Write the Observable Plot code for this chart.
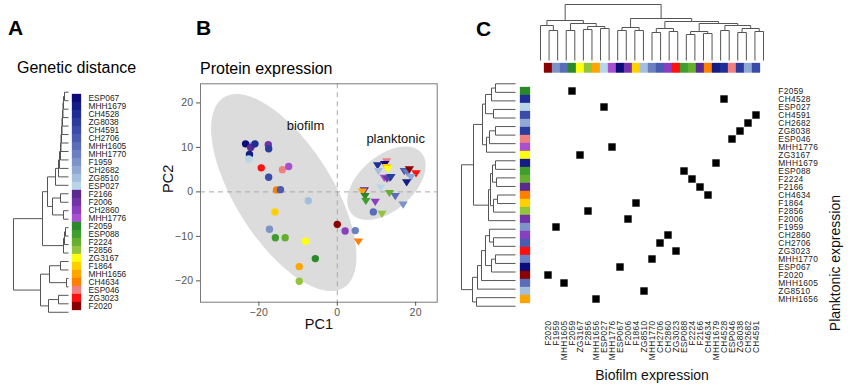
<!DOCTYPE html>
<html><head><meta charset="utf-8">
<script src="https://cdn.jsdelivr.net/npm/d3@7"></script>
<script src="https://cdn.jsdelivr.net/npm/@observablehq/plot@0.6"></script>
<style>
body{margin:0;background:#fff;}
#root{position:relative;width:850px;height:385px;overflow:hidden;font-family:"Liberation Sans",Arial,sans-serif;color:#000;}
.p{position:absolute;}
.letter{position:absolute;font-weight:bold;font-size:21px;line-height:21px;}
.title{position:absolute;font-size:16px;line-height:16px;white-space:nowrap;}
g[aria-label="x-axis tick label"] text, g[aria-label="y-axis tick label"] text, g[aria-label="strain label"] text{letter-spacing:0.3px;}
</style></head><body><div id="root"></div>
<script>
// ---------- DATA ----------
const strainsA = ["ESP067","MHH1679","CH4528","ZG8038","CH4591","CH2706","MHH1605","MHH1770","F1959","CH2682","ZG8510","ESP027",
  "F2166","F2006","CH2860","MHH1776","F2059","ESP088","F2224","F2856","ZG3167","F1864","MHH1656","CH4634","ESP046","ZG3023","F2020"];
const strainColors = ["#0c0c7a","#141c86","#1f2e94","#2c3c9e","#3a4ca8","#4a5cb0","#5a6db8","#6a80c0","#7d93c8","#90a8d4","#a5bede","#b8d6e8",
  "#5b2a90","#7232a8","#8a3ec0","#a850d0","#2a8a2a","#409e2e","#66ae30","#92c43c","#ffff10","#ffd000","#ffa500","#ff8000","#f08080","#ff1010","#8b0000"];
const treeA = "((((((((((((((ESP067,MHH1679)4,CH4528)5,ZG8038)5.5,CH4591)6,CH2706)6.5,MHH1605)7,MHH1770)7.5,F1959)8,CH2682)9,ZG8510)10,ESP027)13,((F2166,F2006)8,(CH2860,MHH1776)5)16)21,(((F2059,ESP088)3,F2224)4,F2856)5)26,(((ZG3167,F1864)8,(MHH1656,CH4634)2)19,((ESP046,ZG3023)10,F2020)20)28)55";

const rowStrains = ["F2059","CH4528","ESP027","CH4591","CH2682","ZG8038","ESP046","MHH1776","ZG3167","MHH1679","ESP088","F2224","F2166","CH4634",
  "F1864","F2856","F2006","F1959","CH2860","CH2706","ZG3023","MHH1770","ESP067","F2020","MHH1605","ZG8510","MHH1656"];
const colStrains = ["F2020","F1959","MHH1605","F2059","ZG3167","F2856","MHH1656","ESP027","MHH1776","ESP067","F2006","F1864","ZG8510","MHH1770",
  "CH2706","CH2860","ZG3023","ESP088","F2224","F2166","CH4634","MHH1679","CH4528","ESP046","ZG8038","CH2682","CH4591"];
const treeRows = "((((((F2059,CH4528)20,ESP027)24,(CH4591,CH2682)22)30,(((ZG8038,ESP046)20,MHH1776)26,ZG3167)29)33,((((MHH1679,ESP088)20,(F2224,F2166)19)23,((CH4634,F1864)18,F2856)22)25,F2006)27)42,(((((F1959,(CH2860,CH2706)22)26,((ZG3023,MHH1770)20,ESP067)24)30,F2020)34,MHH1605)38,(ZG8510,MHH1656)39)43)54";
const treeCols = "(((F2020,(F1959,MHH1605)30)35,((F2059,ZG3167)30,((F2856,MHH1656)31,(ESP027,MHH1776)32)34)37)40,(((ESP067,F2006)30,(F1864,ZG8510)30)33,(((MHH1770,CH2706)28,(CH2860,ZG3023)29)32,(((ESP088,F2224)26,(F2166,CH4634)27)29,((MHH1679,CH4528)30,((ESP046,ZG8038)28,(CH2682,CH4591)29)32)35)37)39)42)56";

const biofilmStrains = ["CH2682","ESP067","F2166","CH4528","MHH1679","ESP027","F2006","ZG8038","ZG3023","ESP046","MHH1776","CH4591","CH4634","CH2706",
  "ZG8510","F1864","F1959","ESP088","F2224","ZG3167","F2059","MHH1656","F2856","F2020","CH2860","MHH1770","MHH1605"];
const biofilmPC1 = [-21.8,-23.4,-22.1,-21.0,-22.4,-22.6,-17.6,-17.5,-19.4,-14.0,-12.4,-17.5,-15.5,-14.5,-7.4,-15.9,-17.3,-15.8,-13.3,-8.1,-5.6,-9.7,-9.7,0.0,2.0,4.6,9.2];
const biofilmPC2 = [10.4,10.8,10.0,10.8,8.4,7.4,10.6,9.7,5.4,5.0,5.7,3.3,0.45,0.5,-2.0,-4.5,-8.4,-10.3,-10.3,-11.1,-15.0,-16.8,-20.1,-7.3,-8.8,-8.7,-4.5];
const planktonicStrains = ["ESP046","ESP067","CH4528","ZG8510","F1864","ZG3167","MHH1776","F2006","CH4591","ZG8038","ESP027","F2166","MHH1656","F2059",
  "ESP088","CH2860","F2224","MHH1605","F2856","F1959","CH2706","MHH1770","F2020","ZG3023","CH2682","MHH1679","CH4634"];
const planktonicPC1 = [12.6,12.1,10.3,10.5,12.6,12.9,12.0,12.7,13.4,13.7,11.1,6.9,6.4,7.1,7.3,9.7,13.3,14.8,11.4,16.8,17.1,17.9,18.4,20.1,18.8,17.7,5.4];
const planktonicPC2 = [6.9,6.3,6.0,4.7,5.6,5.2,3.2,3.0,3.2,3.4,1.0,0.4,0.1,-0.9,-2.0,-2.2,-0.2,-0.9,-4.9,-2.8,4.7,4.4,5.1,4.2,3.4,2.2,-11.1];
const groupNames = ["biofilm","planktonic"];
const groupLabelPC1 = [-8.1,14.9];
const groupLabelPC2 = [14.9,11.9];
// ellipse parameters (centre, x/y half-extent, phase) per group
const ellipseCX = [-13.65,12.55], ellipseCY = [-0.15,1.95], ellipseRX = [18.55,10.0], ellipseRY = [22.15,8.25], ellipsePhase = [130.5,61];
const pcTicksX = [-20,0,20];
const pcTicksY = [-20,-10,0,10,20];

// ---------- HELPERS ----------
const FONT = '"Liberation Sans", Arial, sans-serif';
const LABEL_SIZE = 8.4;
const colorOf = new Map(strainsA.map((s,i)=>[s,strainColors[i]]));
const root = document.getElementById("root");
function place(el,left,top){const d=document.createElement("div");d.className="p";d.style.left=left+"px";d.style.top=top+"px";d.appendChild(el);root.appendChild(d);}
function htmlText(cls,txt,left,top){const d=document.createElement("div");d.className=cls;d.textContent=txt;d.style.left=left+"px";d.style.top=top+"px";root.appendChild(d);}
const baseStyle = {fontFamily:FONT, background:"transparent", overflow:"visible"};

function parseTree(s){
  let i=0;
  function node(){
    if(s[i]==="("){
      i++; const children=[node()];
      while(s[i]===","){i++;children.push(node());}
      i++;
      let num="";while(i<s.length&&/[0-9.]/.test(s[i]))num+=s[i++];
      return {children,h:+num};
    }
    let name="";while(i<s.length&&!/[,()]/.test(s[i]))name+=s[i++];
    return {name,h:0};
  }
  return node();
}
function dendroSegments(treeStr, order){
  const tree=parseTree(treeStr); const segs=[];
  (function walk(n){
    if(!n.children){n.pos=order.indexOf(n.name);return;}
    n.children.forEach(walk);
    n.pos=d3.mean(n.children,c=>c.pos);
    const ps=n.children.map(c=>c.pos);
    segs.push({p1:d3.min(ps),p2:d3.max(ps),h1:n.h,h2:n.h});
    n.children.forEach(c=>segs.push({p1:c.pos,p2:c.pos,h1:c.h,h2:n.h}));
  })(tree);
  return {segs,maxH:tree.h};
}
const triDown = {draw(ctx,size){const r=Math.sqrt(size/Math.PI);const w=r*1.3;ctx.moveTo(-w,-r*0.8);ctx.lineTo(w,-r*0.8);ctx.lineTo(0,r*1.2);ctx.closePath();}};

// ---------- PANEL A ----------
{
  const {segs,maxH}=dendroSegments(treeA,strainsA);
  place(Plot.plot({width:64,height:245,marginLeft:5,marginRight:4,marginTop:7.5,marginBottom:9,style:baseStyle,
    x:{domain:[maxH,0],axis:null}, y:{domain:[-0.5,strainsA.length-0.5],reverse:true,axis:null},
    marks:[Plot.link(segs,{x1:"h1",y1:"p1",x2:"h2",y2:"p2",stroke:"#555",strokeWidth:1})]}),8,80);
  place(Plot.plot({width:110,height:245,marginLeft:12,marginRight:89,marginTop:7.5,marginBottom:9,style:baseStyle,
    y:{type:"band",domain:strainsA,padding:0,axis:null},
    marks:[Plot.cell(strainsA,{y:d=>d,fill:d=>colorOf.get(d),stroke:d=>colorOf.get(d),strokeWidth:0.3}),
      Plot.text(strainsA,{y:d=>d,text:d=>d,frameAnchor:"right",textAnchor:"start",dx:7,fontSize:LABEL_SIZE,fill:"#222",ariaLabel:"strain label"})]}),60,80);
  htmlText("letter","A",8,17);
  htmlText("title","Genetic distance",17,59.5);
}

// ---------- PANEL B ----------
{
  const bio = biofilmStrains.map((s,i)=>({s,x:biofilmPC1[i],y:biofilmPC2[i]}));
  const pla = planktonicStrains.map((s,i)=>({s,x:planktonicPC1[i],y:planktonicPC2[i]}));
  const ell = groupNames.map((g,k)=>d3.range(0,361,2).map(deg=>{const t=deg*Math.PI/180;
    return {g,x:ellipseCX[k]+ellipseRX[k]*Math.cos(t),y:ellipseCY[k]+ellipseRY[k]*Math.cos(t+ellipsePhase[k]*Math.PI/180)};}));
  const labels = groupNames.map((g,k)=>({g,x:groupLabelPC1[k],y:groupLabelPC2[k]}));
  place(Plot.plot({width:295,height:265,marginLeft:50,marginRight:8.3,marginTop:8.3,marginBottom:38.3,style:baseStyle,
    x:{domain:[-34.9,25.5]}, y:{domain:[-24.8,24.3]}, color:{type:"identity"},
    marks:[
      ...ell.map(pts=>Plot.line(pts,{x:"x",y:"y",fill:"#dcdcdc",stroke:"none"})),
      Plot.ruleX([0],{stroke:"#a8a8a8",strokeDasharray:"5,4",strokeWidth:1}),
      Plot.ruleY([0],{stroke:"#a8a8a8",strokeDasharray:"5,4",strokeWidth:1}),
      Plot.frame({stroke:"#7a7a7a"}),
      Plot.axisX({ticks:pcTicksX,tickSize:4,tickPadding:2,fontSize:10.5,color:"#555",label:null}),
      Plot.axisY({ticks:pcTicksY,tickSize:4,tickPadding:3,fontSize:10.5,color:"#555",label:null}),
      Plot.text(["PC1"],{frameAnchor:"bottom",dy:26.5,fontSize:14.5,fill:"#111"}),
      Plot.text(["PC2"],{frameAnchor:"left",dx:-32,rotate:-90,fontSize:14.5,fill:"#111"}),
      Plot.dot(bio,{x:"x",y:"y",r:3.7,fill:d=>colorOf.get(d.s),stroke:"none",symbol:"circle"}),
      Plot.dot(pla,{x:"x",y:"y",r:3.6,fill:d=>colorOf.get(d.s),stroke:"none",symbol:triDown}),
      Plot.text(labels,{x:"x",y:"y",text:"g",fontSize:13,fill:"#111"})
    ]}),150,75);
  htmlText("letter","B",196,17);
  htmlText("title","Protein expression",200,60.5);
}

// ---------- PANEL C ----------
{
  const ML=5.71, MR=82.7;
  const top = dendroSegments(treeCols,colStrains);
  place(Plot.plot({width:320,height:63,marginLeft:ML,marginRight:MR,marginTop:4,marginBottom:3,style:baseStyle,
    x:{domain:[-0.5,colStrains.length-0.5],axis:null}, y:{domain:[0,top.maxH],axis:null},
    marks:[Plot.link(top.segs,{x1:"p1",y1:"h1",x2:"p2",y2:"h2",stroke:"#555",strokeWidth:1})]}),530,0);
  place(Plot.plot({width:320,height:10,marginLeft:ML,marginRight:MR,marginTop:0,marginBottom:0.4,style:baseStyle,
    x:{type:"band",domain:colStrains,padding:0,axis:null},
    marks:[Plot.cell(colStrains,{x:d=>d,fill:d=>colorOf.get(d),stroke:d=>colorOf.get(d),strokeWidth:0.3})]}),530,63);
  const left = dendroSegments(treeRows,rowStrains);
  place(Plot.plot({width:62,height:250,marginLeft:6,marginRight:2,marginTop:9,marginBottom:10,style:baseStyle,
    x:{domain:[left.maxH,0],axis:null}, y:{domain:[-0.5,rowStrains.length-0.5],reverse:true,axis:null},
    marks:[Plot.link(left.segs,{x1:"h1",y1:"p1",x2:"h2",y2:"p2",stroke:"#555",strokeWidth:1})]}),455,70);
  place(Plot.plot({width:25,height:250,marginLeft:10,marginRight:5,marginTop:9,marginBottom:10,style:baseStyle,
    y:{type:"band",domain:rowStrains,padding:0,axis:null},
    marks:[Plot.cell(rowStrains,{y:d=>d,fill:d=>colorOf.get(d),stroke:d=>colorOf.get(d),strokeWidth:0.3})]}),510,70);
  const pairs = rowStrains.map(s=>({s}));
  place(Plot.plot({width:320,height:315,marginLeft:ML,marginRight:MR,marginTop:9,marginBottom:75,style:baseStyle,
    x:{type:"band",domain:colStrains,padding:0}, y:{type:"band",domain:rowStrains,padding:0},
    marks:[
      Plot.cell(pairs,{x:"s",y:"s",fill:"#000",inset:0.3}),
      Plot.axisX({anchor:"bottom",tickRotate:-90,tickSize:0,tickPadding:10,fontSize:LABEL_SIZE,color:"#222",label:null}),
      Plot.axisY({anchor:"right",tickSize:0,tickPadding:10.5,fontSize:LABEL_SIZE,color:"#222",label:null}),
      Plot.text(["Biofilm expression"],{frameAnchor:"bottom",dy:69,fontSize:14,fill:"#111"}),
      Plot.text(["Planktonic expression"],{frameAnchor:"right",dx:68,rotate:-90,fontSize:14,fill:"#111"})
    ]}),530,70);
  htmlText("letter","C",476,18);
}
</script></body></html>
